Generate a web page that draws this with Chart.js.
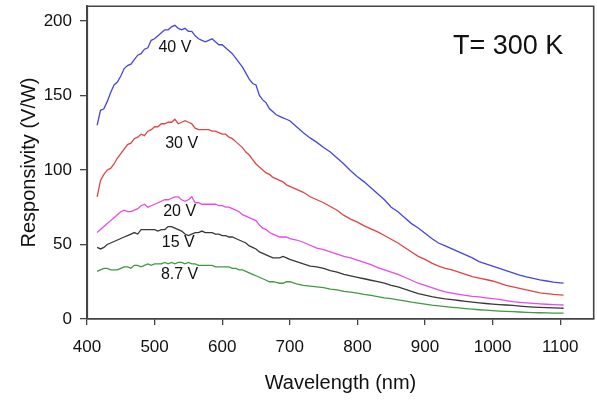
<!DOCTYPE html>
<html>
<head>
<meta charset="utf-8">
<script src="https://cdn.jsdelivr.net/npm/chart.js@4/dist/chart.umd.min.js"></script>
<style>
  html, body { margin: 0; padding: 0; background: #fff; }
  #wrap { width: 597px; height: 401px; }
</style>
</head>
<body>
<div id="wrap"><canvas id="respChart" width="597" height="401"></canvas></div>
<script>
// wavelength (nm) - 5 nm steps up to 700, then 10 nm
const wavelengths = [
  415, 420, 425, 430, 435, 440, 445, 450, 455, 460, 465, 470, 475, 480, 485, 490, 495, 500, 505, 510,
  515, 520, 525, 530, 535, 540, 545, 550, 555, 560, 565, 570, 575, 580, 585, 590, 595, 600, 605, 610,
  615, 620, 625, 630, 635, 640, 645, 650, 655, 660, 665, 670, 675, 680, 685, 690, 695, 700,
  710, 720, 730, 740, 750, 760, 770, 780, 790, 800, 810, 820, 830, 840, 850, 860, 870, 880, 890, 900,
  910, 920, 930, 940, 950, 960, 970, 980, 990, 1000, 1010, 1020, 1030, 1040, 1050, 1060, 1070, 1080, 1090, 1100,
  1105
];

// responsivity (V/W)
const resp40V = [
  130, 140, 141, 146, 152, 157, 159, 163, 168, 170, 171, 174, 177, 178, 181, 182, 187, 188, 190, 192,
  194, 194, 196, 197, 195, 194, 195, 193, 193, 190, 188, 187, 186, 187, 188, 186, 184, 184, 182, 180,
  178, 175, 172, 169, 165, 161, 158, 157, 150, 147, 145, 141, 139, 137, 136, 135, 134, 133,
  129, 125, 121.5, 118.5, 115, 112, 108, 104, 99.5, 95.5, 92, 88, 84, 80, 75, 72, 68, 64, 61, 57.5,
  54, 51, 49, 47, 45, 43, 41, 38.5, 37, 35.5, 34, 32.5, 31, 29.5, 28.3, 27.3, 26.3, 25.5, 24.8, 24.3,
  24
];
const resp30V = [
  82, 93, 97, 100, 101, 104, 108, 111, 114, 117, 118, 121, 122, 124, 123, 126, 127, 129, 129, 131,
  131, 132, 132, 134, 131, 132, 133, 132, 131, 128, 127, 127, 127, 127, 126, 126, 125, 124, 124, 122,
  121, 119, 117, 115, 112, 110, 107, 104, 102, 100, 98, 97, 95, 94, 93, 92, 90, 89,
  87, 85, 82, 80, 78, 75.5, 73, 69.5, 67, 65, 62.5, 60.5, 58.5, 56, 53.5, 51, 48, 45, 42, 40,
  37.5, 35.5, 34, 33, 31.5, 30, 28.5, 27.5, 26.5, 25.5, 24, 22.5, 21.5, 20.5, 19.5, 18.5, 17.5, 17, 16.5, 16.2,
  16
];
const resp20V = [
  58, 60, 62, 64, 66, 68, 70, 72, 73, 72, 72, 73, 74, 76, 77, 75, 76, 77, 78, 79,
  80, 80, 81, 82, 82, 80, 79, 80, 82, 78, 78, 77, 77, 77, 77, 77, 76, 76, 75, 75,
  74, 73, 72, 70, 69, 68, 67, 66, 63, 61, 60, 58, 57, 56, 55, 55, 55, 54,
  53, 51.5, 49.5, 47.5, 46.5, 45, 43.5, 42, 41, 39.5, 38, 36.5, 34.5, 33, 31.5, 30, 28, 26, 24, 22.5,
  21, 19.5, 18.2, 17.3, 16.5, 15.8, 15.2, 14.8, 14.2, 13.7, 13.1, 12.4, 11.7, 11.2, 10.8, 10.5, 10.2, 9.9, 9.7, 9.5,
  9.4
];
const resp15V = [
  48, 47, 48, 50, 51, 52, 53, 54, 55, 56, 57, 58, 57, 60, 60, 60, 60, 60, 59, 60,
  60, 62, 62, 61, 60, 59, 57, 56, 57, 58, 58, 59, 58, 58, 58, 57, 57, 56, 56, 55,
  55, 54, 53, 52, 51, 49, 48, 47, 45, 44, 43, 42, 41, 41, 41, 42, 41, 40,
  38.5, 37, 35.5, 35, 34, 32.5, 31.5, 30, 29, 28, 27, 26, 25, 24, 22.5, 21.5, 20, 18.5, 17, 16,
  15, 14.2, 13.5, 13, 12.4, 11.8, 11.3, 10.8, 10.4, 10, 9.7, 9.4, 9.1, 8.7, 8.3, 8, 7.8, 7.6, 7.4, 7.3,
  7.2
];
const resp8p7V = [
  32, 33, 34, 34, 33, 33, 33, 34, 35, 35, 34, 36, 36, 35, 36, 37, 36, 37, 37, 37,
  38, 37, 38, 37, 38, 38, 37, 38, 37, 37, 36, 36, 36, 36, 36, 35, 35, 35, 35, 35,
  34, 34, 33, 33, 32, 31, 30, 29, 28, 27, 26, 25, 25, 24.5, 24, 24, 25, 25,
  23.5, 22.5, 22, 21.5, 21, 20, 19.5, 18.5, 18, 17.4, 16.5, 15.8, 15, 14.2, 13.6, 12.9, 12.2, 11.3, 10.6, 10,
  9.3, 8.8, 8.3, 7.8, 7.4, 7, 6.6, 6.2, 5.9, 5.6, 5.3, 5.1, 4.9, 4.7, 4.5, 4.3, 4.2, 4.1, 4, 4,
  4
];

const seriesNames = ['40 V', '30 V', '20 V', '15 V', '8.7 V'];
const seriesColors = ['#4646dc', '#e04444', '#e84ae8', '#383838', '#3f9a3f'];
const xTicks = [400, 500, 600, 700, 800, 900, 1000, 1100];
const yTicks = [0, 50, 100, 150, 200];

// where the curve names sit, in data units (nm, V/W)
const nameAnchors = [[530, 182], [540, 118], [537, 72], [535, 51], [537, 29.5]];
const tempText = 'T= 300 K';
const tempAnchor = [1023, 182.5];

const FONT = "'Liberation Sans', Arial, Helvetica, sans-serif";
const FRAME = '#444';

const allSeries = [resp40V, resp30V, resp20V, resp15V, resp8p7V];

const datasets = allSeries.map((vals, i) => ({
    label: seriesNames[i],
    data: wavelengths.map((w, j) => ({ x: w, y: vals[j] })),
    borderColor: seriesColors[i],
    borderWidth: 1.3,
    pointRadius: 0,
    tension: 0,
    fill: false
}));

// box round the plot, curve names and temperature note
const labelsPlugin = {
    id: 'curveNames',
    afterDraw(chart) {
        const { ctx, scales: { x, y } } = chart;
        ctx.save();
        ctx.globalAlpha = 1;
        ctx.globalCompositeOperation = 'source-over';
        ctx.strokeStyle = FRAME;
        ctx.lineWidth = 1.6;
        ctx.beginPath();
        ctx.rect(x.left + 0.3, y.top + 0.3, x.right - x.left - 0.6, y.bottom - y.top - 0.6);
        ctx.stroke();

        ctx.fillStyle = '#111';
        ctx.textAlign = 'center';
        ctx.textBaseline = 'middle';
        ctx.font = `16px ${FONT}`;
        nameAnchors.forEach(([w, v], i) => {
            ctx.fillText(seriesNames[i], x.getPixelForValue(w), y.getPixelForValue(v));
        });
        ctx.font = `27px ${FONT}`;
        ctx.fillText(tempText, x.getPixelForValue(tempAnchor[0]), y.getPixelForValue(tempAnchor[1]));
        ctx.restore();
    }
};

new Chart(document.getElementById('respChart'), {
    type: 'line',
    data: { datasets },
    options: {
        responsive: false,
        animation: false,
        layout: { padding: { top: 6, right: 3, left: 0, bottom: 0 } },
        plugins: { legend: { display: false }, tooltip: { enabled: false } },
        scales: {
            x: {
                type: 'linear',
                min: 400,
                max: 1150,
                afterBuildTicks: s => { s.ticks = xTicks.map(v => ({ value: v })); },
                afterFit: s => { s.height = 82; s.paddingLeft = 0; s.paddingRight = 0; },
                border: { display: true, color: FRAME, width: 1.6 },
                grid: { drawOnChartArea: false, drawTicks: true, tickLength: 6, color: FRAME, lineWidth: 1.3 },
                ticks: {
                    color: '#111', padding: 12, maxRotation: 0,
                    format: { useGrouping: false },
                    font: { family: FONT, size: 17 }
                },
                title: {
                    display: true,
                    text: 'Wavelength (nm)',
                    color: '#111',
                    font: { family: FONT, size: 20 },
                    padding: { top: 0, bottom: 6 }
                }
            },
            y: {
                min: 0,
                max: 210,
                afterBuildTicks: s => { s.ticks = yTicks.map(v => ({ value: v })); },
                afterFit: s => { s.width = 87; s.paddingTop = 0; s.paddingBottom = 0; },
                border: { display: true, color: FRAME, width: 1.6 },
                grid: { drawOnChartArea: false, drawTicks: true, tickLength: 7, color: FRAME, lineWidth: 1.3 },
                ticks: { color: '#111', padding: 8, font: { family: FONT, size: 17 } },
                title: {
                    display: true,
                    text: 'Responsivity (V/W)',
                    color: '#111',
                    font: { family: FONT, size: 20 },
                    padding: { top: 17, bottom: 0 }
                }
            }
        }
    },
    plugins: [labelsPlugin]
});
</script>
</body>
</html>
